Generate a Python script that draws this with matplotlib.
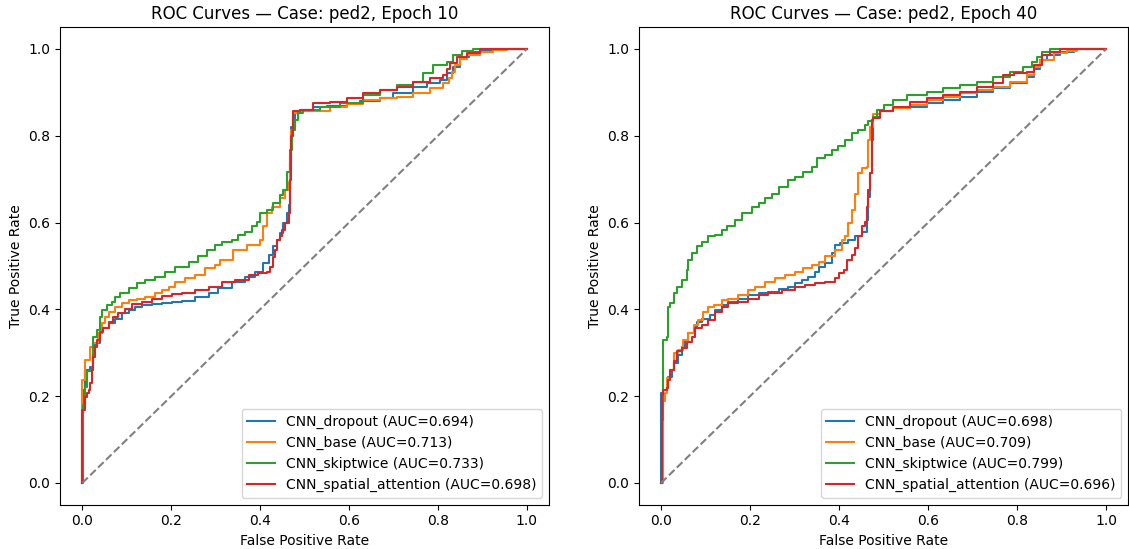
import matplotlib
matplotlib.use("Agg")
import matplotlib.pyplot as plt

# ---- Epoch 10 ROC points (fpr, tpr) ----
e10_dropout_fpr = [0, 0, 0.002, 0.006, 0.017, 0.025, 0.029, 0.040, 0.044, 0.059, 0.074, 0.089, 0.104, 0.119, 0.134,
                   0.156, 0.179, 0.201, 0.224, 0.254, 0.284, 0.306, 0.336, 0.366, 0.389, 0.407, 0.419, 0.430, 0.437,
                   0.445, 0.452, 0.460, 0.464, 0.467, 0.469, 0.479, 0.490, 0.520, 0.550, 0.595, 0.625, 0.670, 0.700,
                   0.745, 0.775, 0.805, 0.820, 0.835, 0.850, 0.869, 0.895, 0.925, 1.0]
e10_dropout_tpr = [0, 0.150, 0.214, 0.260, 0.268, 0.306, 0.322, 0.345, 0.356, 0.368, 0.379, 0.391, 0.399, 0.406, 0.410,
                   0.412, 0.414, 0.416, 0.420, 0.429, 0.437, 0.449, 0.464, 0.475, 0.487, 0.506, 0.525, 0.545, 0.560,
                   0.575, 0.598, 0.621, 0.641, 0.737, 0.821, 0.852, 0.859, 0.866, 0.869, 0.873, 0.881, 0.886, 0.898,
                   0.913, 0.921, 0.929, 0.944, 0.959, 0.982, 0.992, 0.998, 1.0, 1.0]

e10_base_fpr = [0, 0, 0.006, 0.017, 0.025, 0.036, 0.044, 0.051, 0.059, 0.074, 0.089, 0.104, 0.122, 0.141, 0.164,
                0.179, 0.194, 0.209, 0.231, 0.254, 0.276, 0.299, 0.310, 0.340, 0.370, 0.400, 0.407, 0.415, 0.426,
                0.445, 0.456, 0.464, 0.467, 0.470, 0.475, 0.490, 0.557, 0.595, 0.632, 0.670, 0.707, 0.745, 0.782,
                0.812, 0.824, 0.831, 0.839, 0.850, 0.865, 0.895, 0.925, 0.955, 1.0]
e10_base_tpr = [0, 0.237, 0.283, 0.314, 0.322, 0.345, 0.368, 0.383, 0.395, 0.406, 0.414, 0.422, 0.425, 0.429, 0.437,
                0.445, 0.452, 0.464, 0.472, 0.479, 0.495, 0.502, 0.514, 0.537, 0.548, 0.560, 0.591, 0.621, 0.637,
                0.656, 0.675, 0.694, 0.752, 0.813, 0.852, 0.856, 0.867, 0.873, 0.882, 0.886, 0.890, 0.898, 0.909,
                0.922, 0.932, 0.948, 0.963, 0.978, 0.986, 0.994, 0.998, 1.0, 1.0]

e10_skip_fpr = [0, 0.002, 0.002, 0.006, 0.010, 0.021, 0.025, 0.032, 0.040, 0.044, 0.055, 0.066, 0.074, 0.085,
                0.104, 0.122, 0.141, 0.164, 0.186, 0.209, 0.239, 0.261, 0.280, 0.299, 0.314, 0.336, 0.351, 0.366,
                0.381, 0.392, 0.400, 0.415, 0.430, 0.445, 0.452, 0.461, 0.467, 0.472, 0.479, 0.486, 0.497, 0.535,
                0.580, 0.632, 0.670, 0.707, 0.745, 0.767, 0.790, 0.820, 0.835, 0.854, 0.880, 0.910, 1.0]
e10_skip_tpr = [0, 0.126, 0.180, 0.222, 0.257, 0.268, 0.337, 0.353, 0.383, 0.399, 0.410, 0.418, 0.429, 0.437,
                0.449, 0.460, 0.468, 0.475, 0.487, 0.498, 0.510, 0.522, 0.537, 0.548, 0.556, 0.561, 0.571, 0.579,
                0.591, 0.602, 0.621, 0.629, 0.644, 0.664, 0.675, 0.717, 0.767, 0.813, 0.837, 0.852, 0.859, 0.867,
                0.875, 0.894, 0.906, 0.917, 0.925, 0.944, 0.963, 0.971, 0.986, 0.996, 0.999, 1.0, 1.0]

e10_spatial_fpr = [0, 0, 0.006, 0.010, 0.014, 0.017, 0.021, 0.025, 0.029, 0.032, 0.040, 0.047, 0.059, 0.070,
                   0.081, 0.096, 0.111, 0.134, 0.156, 0.179, 0.201, 0.224, 0.254, 0.284, 0.314, 0.344, 0.374, 0.396,
                   0.415, 0.422, 0.430, 0.434, 0.437, 0.445, 0.449, 0.456, 0.464, 0.467, 0.467, 0.470, 0.475, 0.490,
                   0.520, 0.557, 0.595, 0.632, 0.670, 0.707, 0.745, 0.782, 0.812, 0.820, 0.827, 0.842, 0.865, 0.895,
                   0.925, 1.0]
e10_spatial_tpr = [0, 0.168, 0.199, 0.207, 0.214, 0.230, 0.260, 0.291, 0.314, 0.330, 0.349, 0.356, 0.372, 0.383,
                   0.391, 0.402, 0.412, 0.418, 0.423, 0.431, 0.435, 0.438, 0.445, 0.452, 0.464, 0.468, 0.479, 0.483,
                   0.487, 0.498, 0.521, 0.537, 0.560, 0.568, 0.583, 0.598, 0.621, 0.652, 0.698, 0.800, 0.857, 0.860,
                   0.875, 0.879, 0.886, 0.898, 0.906, 0.913, 0.925, 0.932, 0.940, 0.955, 0.967, 0.982, 0.990, 0.999,
                   1.0, 1.0]

# ---- Epoch 40 ROC points (fpr, tpr) ----
e40_dropout_fpr = [0, 0, 0.005, 0.013, 0.016, 0.024, 0.028, 0.039, 0.046, 0.054, 0.061, 0.073, 0.080, 0.091, 0.110,
                   0.121, 0.136, 0.151, 0.174, 0.196, 0.219, 0.241, 0.264, 0.286, 0.301, 0.316, 0.331, 0.346, 0.354,
                   0.369, 0.384, 0.391, 0.402, 0.421, 0.436, 0.451, 0.462, 0.466, 0.470, 0.473, 0.477, 0.492, 0.522,
                   0.560, 0.597, 0.634, 0.672, 0.709, 0.747, 0.784, 0.822, 0.837, 0.852, 0.867, 0.897, 0.927, 0.956,
                   1.0]
e40_dropout_tpr = [0, 0.207, 0.214, 0.222, 0.245, 0.260, 0.276, 0.295, 0.314, 0.330, 0.345, 0.360, 0.372, 0.379, 0.387,
                   0.399, 0.410, 0.418, 0.425, 0.433, 0.437, 0.441, 0.446, 0.452, 0.460, 0.468, 0.475, 0.487, 0.498,
                   0.506, 0.529, 0.548, 0.552, 0.560, 0.568, 0.579, 0.606, 0.660, 0.714, 0.790, 0.844, 0.856, 0.863,
                   0.867, 0.875, 0.882, 0.890, 0.902, 0.909, 0.921, 0.936, 0.955, 0.975, 0.986, 0.994, 0.999, 1.0,
                   1.0]

e40_base_fpr = [0, 0.004, 0.009, 0.013, 0.020, 0.028, 0.039, 0.050, 0.061, 0.073, 0.084, 0.095, 0.106, 0.118, 0.136,
                0.151, 0.174, 0.196, 0.211, 0.234, 0.256, 0.279, 0.301, 0.320, 0.339, 0.354, 0.369, 0.391, 0.406,
                0.413, 0.421, 0.428, 0.436, 0.443, 0.451, 0.462, 0.466, 0.470, 0.477, 0.492, 0.522, 0.560, 0.597,
                0.634, 0.672, 0.709, 0.747, 0.784, 0.822, 0.837, 0.852, 0.882, 0.912, 0.934, 0.964, 1.0]
e40_base_tpr = [0, 0.190, 0.207, 0.241, 0.260, 0.299, 0.306, 0.329, 0.345, 0.364, 0.376, 0.395, 0.406, 0.410, 0.422,
                0.425, 0.433, 0.445, 0.452, 0.464, 0.472, 0.479, 0.487, 0.495, 0.502, 0.510, 0.522, 0.537, 0.560,
                0.568, 0.598, 0.629, 0.667, 0.714, 0.725, 0.729, 0.790, 0.821, 0.851, 0.856, 0.863, 0.871, 0.882,
                0.890, 0.898, 0.906, 0.913, 0.925, 0.940, 0.959, 0.975, 0.990, 0.996, 0.999, 1.0, 1.0]

e40_skip_fpr = [0, 0.0015, 0.005, 0.013, 0.016, 0.020, 0.028, 0.035, 0.046, 0.058, 0.061, 0.069, 0.080, 0.091,
                0.106, 0.121, 0.136, 0.148, 0.166, 0.181, 0.204, 0.219, 0.234, 0.249, 0.264, 0.286, 0.301, 0.320,
                0.339, 0.350, 0.369, 0.384, 0.398, 0.413, 0.428, 0.443, 0.458, 0.466, 0.477, 0.485, 0.500, 0.522,
                0.552, 0.597, 0.634, 0.672, 0.709, 0.747, 0.784, 0.814, 0.833, 0.844, 0.855, 0.874, 0.897, 1.0]
e40_skip_tpr = [0, 0.145, 0.329, 0.337, 0.406, 0.414, 0.437, 0.452, 0.468, 0.491, 0.514, 0.529, 0.545, 0.556,
                0.568, 0.571, 0.583, 0.591, 0.606, 0.621, 0.637, 0.645, 0.656, 0.667, 0.683, 0.698, 0.706, 0.717,
                0.729, 0.748, 0.756, 0.767, 0.776, 0.790, 0.806, 0.813, 0.825, 0.833, 0.844, 0.859, 0.871, 0.882,
                0.894, 0.902, 0.909, 0.917, 0.925, 0.936, 0.948, 0.959, 0.971, 0.982, 0.994, 0.999, 1.0, 1.0]

e40_spatial_fpr = [0, 0.0015, 0.005, 0.013, 0.016, 0.020, 0.028, 0.035, 0.046, 0.058, 0.069, 0.076, 0.091, 0.106,
                   0.121, 0.136, 0.151, 0.174, 0.196, 0.219, 0.241, 0.271, 0.301, 0.324, 0.346, 0.369, 0.391, 0.399,
                   0.410, 0.417, 0.429, 0.436, 0.443, 0.451, 0.458, 0.462, 0.466, 0.470, 0.473, 0.477, 0.492, 0.522,
                   0.560, 0.597, 0.634, 0.672, 0.709, 0.747, 0.769, 0.792, 0.822, 0.837, 0.855, 0.874, 0.897, 0.912,
                   1.0]
e40_spatial_tpr = [0, 0.203, 0.214, 0.218, 0.237, 0.260, 0.280, 0.303, 0.310, 0.326, 0.337, 0.356, 0.364, 0.376,
                   0.395, 0.406, 0.414, 0.418, 0.425, 0.433, 0.437, 0.445, 0.452, 0.456, 0.460, 0.464, 0.472, 0.483,
                   0.491, 0.514, 0.525, 0.541, 0.568, 0.591, 0.602, 0.637, 0.675, 0.714, 0.836, 0.841, 0.856, 0.867,
                   0.879, 0.886, 0.894, 0.902, 0.913, 0.921, 0.940, 0.944, 0.948, 0.963, 0.986, 0.994, 0.999, 1.0,
                   1.0]

model_names = ["CNN_dropout", "CNN_base", "CNN_skiptwice", "CNN_spatial_attention"]
auc_epoch10 = [0.694, 0.713, 0.733, 0.698]
auc_epoch40 = [0.698, 0.709, 0.799, 0.696]
epochs = [10, 40]
case_name = "ped2"

curves_epoch10 = [(e10_dropout_fpr, e10_dropout_tpr), (e10_base_fpr, e10_base_tpr),
                  (e10_skip_fpr, e10_skip_tpr), (e10_spatial_fpr, e10_spatial_tpr)]
curves_epoch40 = [(e40_dropout_fpr, e40_dropout_tpr), (e40_base_fpr, e40_base_tpr),
                  (e40_skip_fpr, e40_skip_tpr), (e40_spatial_fpr, e40_spatial_tpr)]

colors = ["#1f77b4", "#ff7f0e", "#2ca02c", "#d62728"]

fig = plt.figure(figsize=(11.29, 5.49), dpi=100)
ax_left = fig.add_axes([0.0532, 0.0807, 0.4331, 0.8696])
ax_right = fig.add_axes([0.5658, 0.0807, 0.4336, 0.8696])

for ax, epoch, curves, aucs in [(ax_left, epochs[0], curves_epoch10, auc_epoch10),
                                (ax_right, epochs[1], curves_epoch40, auc_epoch40)]:
    for (fpr, tpr), name, auc, c in zip(curves, model_names, aucs, colors):
        ax.plot(fpr, tpr, color=c, lw=1.5, drawstyle="steps-post",
                label=f"{name} (AUC={auc:.3f})")
    ax.plot([0, 1], [0, 1], linestyle="--", color="gray", lw=1.5)
    ax.set_title(f"ROC Curves \u2014 Case: {case_name}, Epoch {epoch}", fontsize=12)
    ax.set_xlabel("False Positive Rate")
    ax.set_ylabel("True Positive Rate")
    ax.legend(loc="lower right")

fig.savefig("out.png", dpi=100)
